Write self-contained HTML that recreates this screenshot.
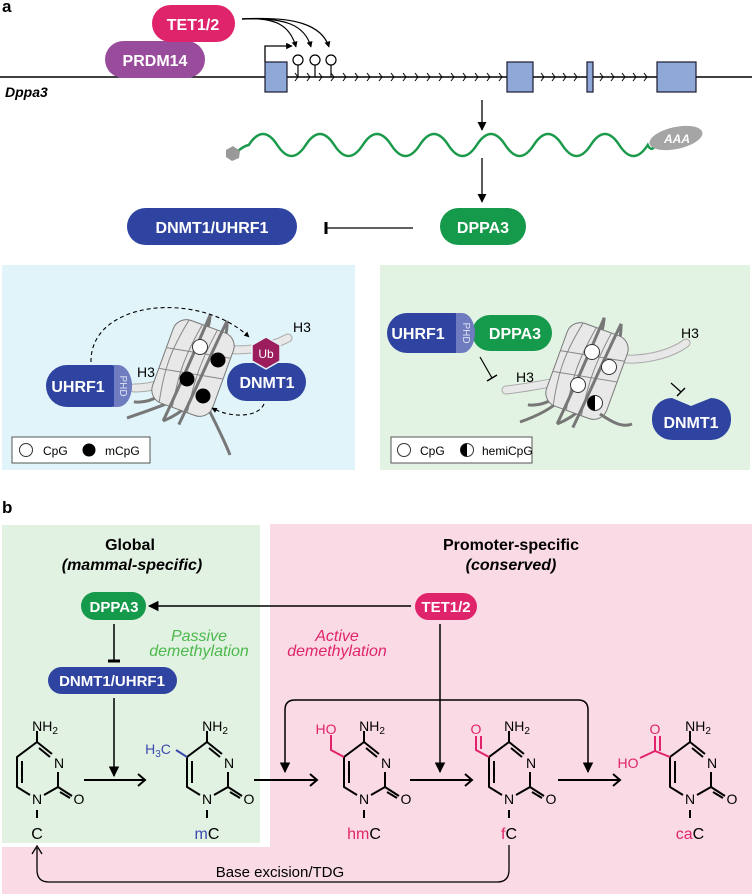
<!DOCTYPE html>
<html><head><meta charset="utf-8"><style>
html,body{margin:0;padding:0;background:#fff}
svg{display:block;font-family:"Liberation Sans",Arial,sans-serif}
</style></head><body>
<svg width="752" height="894" viewBox="0 0 752 894" xmlns="http://www.w3.org/2000/svg">
<defs>
<marker id="ah" viewBox="0 0 10 10" refX="9" refY="5" markerWidth="7" markerHeight="7" orient="auto-start-reverse"><path d="M0,0 L10,5 L0,10 z" fill="#000"/></marker>
<marker id="ahs" viewBox="0 0 10 10" refX="9" refY="5" markerWidth="5" markerHeight="5" orient="auto"><path d="M0,0 L10,5 L0,10 z" fill="#000"/></marker>
<g id="ring" stroke="#000" stroke-width="2" fill="none">
<path d="M0,742 L15,754"/><path d="M2,748 L13,757"/>
<path d="M21,772 L21,787"/>
<path d="M21,787 L7,795"/>
<path d="M-7,795 L-20,787 L-20,757 L0,742"/>
<path d="M-15,783 L-15,761"/>
<path d="M21,787 L35,796"/><path d="M23,792 L33,798"/>
<path d="M0,742 L0,731"/>
<path d="M0,810 L0,818"/>
</g>
<g id="ringtext" font-size="14" text-anchor="middle">
<text x="22" y="768">N</text><text x="0" y="804">N</text><text x="42" y="804">O</text>
</g>
<g id="nuc">
<path d="M-44,52 C-10,45 8,-20 -2,-56 M-10,60 C22,32 28,-22 16,-56" stroke="#777" stroke-width="3" fill="none"/>
<rect x="-32" y="-44" width="64" height="88" rx="14" fill="#e8e8e8" stroke="#777" stroke-width="1"/>
<path d="M-20,-44 C-27,-10 -27,10 -20,44 M-6,-44 C-12,-10 -12,10 -6,44 M10,-44 C5,-10 5,10 10,44 M-32,-10 L32,-22 M-32,12 L32,0" stroke="#888" fill="none" stroke-width="1"/>
<path d="M-2,-56 C-4,-20 -6,20 -10,60" stroke="#777" stroke-width="3" fill="none"/>
<path d="M16,-56 C12,-20 10,20 6,58" stroke="#777" stroke-width="3" fill="none"/>
</g>
</defs>

<!-- ===== Panel a ===== -->
<text x="2" y="12" font-size="17" font-weight="bold">a</text>
<line x1="0" y1="77" x2="752" y2="77" stroke="#000" stroke-width="1.5"/>
<text x="5" y="97" font-size="14" font-weight="bold" font-style="italic">Dppa3</text>
<rect x="105" y="41" width="100" height="37" rx="18.5" fill="#9a4c9c"/>
<text x="155" y="66" font-size="16" font-weight="bold" fill="#fff" text-anchor="middle">PRDM14</text>
<rect x="152" y="5" width="83" height="37" rx="18.5" fill="#e0246b"/>
<text x="193" y="30" font-size="16" font-weight="bold" fill="#fff" text-anchor="middle">TET1/2</text>
<path d="M265,62 L265,46 L292,46" stroke="#000" stroke-width="1.3" fill="none" marker-end="url(#ahs)"/>
<g fill="#8fa8d8" stroke="#1a1a2e" stroke-width="1.2">
<rect x="265" y="62" width="22" height="30"/><rect x="507" y="62" width="26" height="30"/>
<rect x="587" y="62" width="6" height="30"/><rect x="657" y="62" width="39" height="30"/>
</g>
<g stroke="#000" stroke-width="1" fill="none">
<path d="M295,73 l3,4 l-3,4 M307,73 l3,4 l-3,4 M319,73 l3,4 l-3,4 M331,73 l3,4 l-3,4 M343,73 l3,4 l-3,4 M355,73 l3,4 l-3,4 M367,73 l3,4 l-3,4 M379,73 l3,4 l-3,4 M391,73 l3,4 l-3,4 M403,73 l3,4 l-3,4 M415,73 l3,4 l-3,4 M427,73 l3,4 l-3,4 M439,73 l3,4 l-3,4 M451,73 l3,4 l-3,4 M463,73 l3,4 l-3,4 M475,73 l3,4 l-3,4 M487,73 l3,4 l-3,4 M499,73 l3,4 l-3,4"/>
<path d="M541,73 l3,4 l-3,4 M552,73 l3,4 l-3,4 M563,73 l3,4 l-3,4 M574,73 l3,4 l-3,4"/>
<path d="M600,73 l3,4 l-3,4 M611,73 l3,4 l-3,4 M622,73 l3,4 l-3,4 M633,73 l3,4 l-3,4 M644,73 l3,4 l-3,4"/>
</g>
<g stroke="#000" stroke-width="1.2" fill="#fff">
<line x1="298" y1="65" x2="298" y2="77"/><line x1="315" y1="65" x2="315" y2="77"/><line x1="331" y1="65" x2="331" y2="77"/>
<circle cx="298" cy="60" r="5"/><circle cx="315" cy="60" r="5"/><circle cx="331" cy="60" r="5"/>
</g>
<g stroke="#000" stroke-width="1.2" fill="none" marker-end="url(#ahs)">
<path d="M242,19 C275,17 290,25 296,47"/>
<path d="M242,19 C285,17 305,25 311,47"/>
<path d="M242,19 C295,16 322,25 329,47"/>
</g>
<line x1="482" y1="100" x2="482" y2="130" stroke="#000" stroke-width="1.3" marker-end="url(#ah)"/>
<line x1="482" y1="158" x2="482" y2="202" stroke="#000" stroke-width="1.3" marker-end="url(#ah)"/>
<path d="M236,153 Q243,146 248.75,145 q14.25,-22 28.5,0 t28.5,0 t28.5,0 t28.5,0 t28.5,0 t28.5,0 t28.5,0 t28.5,0 t28.5,0 t28.5,0 t28.5,0 t28.5,0 t28.5,0 t28.5,0 Q651,152 655,146" stroke="#1a9a4a" stroke-width="2.5" fill="none"/>
<polygon points="226,150 233,146 240,151 239,158 232,161 226,157" fill="#999"/>
<ellipse cx="676" cy="138" rx="27" ry="11" transform="rotate(-12 676 138)" fill="#a5a5a5"/>
<text x="677" y="143" font-size="12" font-weight="bold" font-style="italic" fill="#fff" text-anchor="middle">AAA</text>
<rect x="127" y="208" width="170" height="37" rx="18.5" fill="#2e44a0"/>
<text x="212" y="233" font-size="16" font-weight="bold" fill="#fff" text-anchor="middle">DNMT1/UHRF1</text>
<rect x="440" y="208" width="86" height="37" rx="18.5" fill="#15994a"/>
<text x="483" y="233" font-size="16" font-weight="bold" fill="#fff" text-anchor="middle">DPPA3</text>
<line x1="413" y1="228" x2="327" y2="228" stroke="#000" stroke-width="1.3"/>
<line x1="326" y1="222" x2="326" y2="234" stroke="#000" stroke-width="3"/>

<!-- left sub-panel -->
<rect x="2" y="265" width="353" height="205" fill="#e1f4f9"/>
<path d="M127,418 C150,410 165,405 175,400" stroke="#777" stroke-width="3" fill="none"/>
<path d="M134,388 C150,388 160,384 172,380" stroke="#aaa" stroke-width="9" fill="none" stroke-linecap="round"/>
<path d="M134,388 C150,388 160,384 172,380" stroke="#e8e8e8" stroke-width="7" fill="none" stroke-linecap="round"/>
<path d="M215,348 C240,352 265,350 288,338" stroke="#aaa" stroke-width="9" fill="none" stroke-linecap="round"/>
<path d="M215,348 C240,352 265,350 288,338" stroke="#e8e8e8" stroke-width="7" fill="none" stroke-linecap="round"/>
<g transform="translate(193,368) rotate(20)"><use href="#nuc"/></g>
<path d="M210,412 C218,428 225,442 230,455" stroke="#777" stroke-width="3" fill="none"/>
<text x="137" y="377" font-size="14">H3</text>
<text x="293" y="332" font-size="14">H3</text>
<circle cx="200" cy="347" r="7.5" fill="#fff" stroke="#333"/>
<circle cx="218" cy="360" r="7.5" fill="#000"/>
<circle cx="187" cy="379" r="7.5" fill="#000"/>
<circle cx="203" cy="396" r="7.5" fill="#000"/>
<rect x="46" y="365" width="86" height="42" rx="21" fill="#2e44a0"/>
<path d="M114,365 H118 A14,21 0 0 1 118,407 H114 Z" fill="#6f7dc0"/>
<text x="78" y="392" font-size="16" font-weight="bold" fill="#fff" text-anchor="middle">UHRF1</text>
<text transform="translate(120,386) rotate(90)" font-size="10" fill="#dfe3f5" text-anchor="middle">PHD</text>
<rect x="227" y="363" width="79" height="38" rx="19" fill="#2e44a0"/>
<text x="267" y="388" font-size="16" font-weight="bold" fill="#fff" text-anchor="middle">DNMT1</text>
<polygon points="266,337 280,345 280,361 266,369 252,361 252,345" fill="#9b1d5e" stroke="#e1f4f9" stroke-width="1.5"/>
<text x="266" y="358" font-size="12" fill="#fff" text-anchor="middle">Ub</text>
<path d="M91,362 C90,300 200,290 249,337" stroke="#000" stroke-width="1.1" stroke-dasharray="4,3" fill="none" marker-end="url(#ahs)"/>
<path d="M264,404 C258,418 230,418 212,408" stroke="#000" stroke-width="1.1" stroke-dasharray="4,3" fill="none" marker-end="url(#ahs)"/>
<rect x="12" y="437" width="138" height="26" fill="#fff" stroke="#555"/>
<circle cx="26" cy="450" r="6.5" fill="#fff" stroke="#333"/>
<text x="43" y="455" font-size="12">CpG</text>
<circle cx="89" cy="450" r="6.5" fill="#000"/>
<text x="105" y="455" font-size="12">mCpG</text>

<!-- right sub-panel -->
<rect x="380" y="265" width="370" height="205" fill="#e3f3e3"/>
<path d="M520,422 C540,415 552,408 560,400" stroke="#777" stroke-width="3" fill="none"/>
<path d="M506,390 C525,388 540,385 556,382" stroke="#aaa" stroke-width="9" fill="none" stroke-linecap="round"/>
<path d="M506,390 C525,388 540,385 556,382" stroke="#e8e8e8" stroke-width="7" fill="none" stroke-linecap="round"/>
<path d="M615,358 C640,362 670,355 686,343" stroke="#aaa" stroke-width="9" fill="none" stroke-linecap="round"/>
<path d="M615,358 C640,362 670,355 686,343" stroke="#e8e8e8" stroke-width="7" fill="none" stroke-linecap="round"/>
<g transform="translate(587,371) rotate(20)"><use href="#nuc"/></g>
<path d="M600,414 C612,422 622,428 632,424" stroke="#777" stroke-width="3" fill="none"/>
<text x="516" y="382" font-size="14">H3</text>
<text x="681" y="338" font-size="14">H3</text>
<circle cx="592" cy="352" r="7.5" fill="#fff" stroke="#333"/>
<circle cx="609" cy="367" r="7.5" fill="#fff" stroke="#333"/>
<circle cx="578" cy="385" r="7.5" fill="#fff" stroke="#333"/>
<circle cx="595" cy="403" r="7.5" fill="#fff" stroke="#333"/>
<path d="M595,395.5 A7.5,7.5 0 0 0 595,410.5 Z" fill="#000"/>
<rect x="472" y="315" width="80" height="36" rx="18" fill="#15994a"/>
<rect x="387" y="313" width="88" height="40" rx="20" fill="#2e44a0"/>
<path d="M456,313 H462 A13,20 0 0 1 462,353 H456 Z" fill="#6f7dc0"/>
<text x="418" y="339" font-size="16" font-weight="bold" fill="#fff" text-anchor="middle">UHRF1</text>
<text transform="translate(463,333) rotate(90)" font-size="10" fill="#dfe3f5" text-anchor="middle">PHD</text>
<text x="515" y="339" font-size="16" font-weight="bold" fill="#fff" text-anchor="middle">DPPA3</text>
<line x1="480" y1="357" x2="492" y2="378" stroke="#000" stroke-width="1.2"/>
<line x1="487" y1="381" x2="497" y2="375" stroke="#000" stroke-width="1.5"/>
<line x1="671" y1="383" x2="681" y2="392" stroke="#000" stroke-width="1.2"/>
<line x1="677" y1="396" x2="685" y2="388" stroke="#000" stroke-width="1.5"/>
<path d="M672,398 L691,406 L711,398 A20,20 0 0 1 731,418 L731,420 A20,20 0 0 1 711,440 L672,440 A20,20 0 0 1 652,420 L652,418 A20,20 0 0 1 672,398 Z" fill="#2e44a0"/>
<text x="691" y="428" font-size="16" font-weight="bold" fill="#fff" text-anchor="middle">DNMT1</text>
<rect x="391" y="437" width="141" height="26" fill="#fff" stroke="#555"/>
<circle cx="404" cy="450" r="6.5" fill="#fff" stroke="#333"/>
<text x="420" y="455" font-size="12">CpG</text>
<circle cx="467" cy="450" r="6.5" fill="#fff" stroke="#333"/>
<path d="M467,443.5 A6.5,6.5 0 0 0 467,456.5 Z" fill="#000"/>
<text x="482" y="455" font-size="12">hemiCpG</text>

<!-- ===== Panel b ===== -->
<text x="2" y="513" font-size="17" font-weight="bold">b</text>
<rect x="2" y="525" width="258" height="318" fill="#e2f2e2"/>
<path d="M270,524 H752 V894 H2 V847 H270 Z" fill="#fadbe5"/>
<text x="130" y="550" font-size="16" font-weight="bold" text-anchor="middle">Global</text>
<text x="132" y="570" font-size="16" font-weight="bold" font-style="italic" text-anchor="middle">(mammal-specific)</text>
<text x="511" y="550" font-size="16" font-weight="bold" text-anchor="middle">Promoter-specific</text>
<text x="511" y="570" font-size="16" font-weight="bold" font-style="italic" text-anchor="middle">(conserved)</text>
<rect x="81" y="592" width="65" height="28" rx="14" fill="#15994a"/>
<text x="114" y="612" font-size="15" font-weight="bold" fill="#fff" text-anchor="middle">DPPA3</text>
<rect x="415" y="593" width="62" height="27" rx="13.5" fill="#e0246b"/>
<text x="446" y="612" font-size="15" font-weight="bold" fill="#fff" text-anchor="middle">TET1/2</text>
<line x1="411" y1="606" x2="149" y2="606" stroke="#000" stroke-width="1.5" marker-end="url(#ah)"/>
<line x1="114" y1="624" x2="114" y2="661" stroke="#000" stroke-width="1.5"/>
<line x1="108" y1="661" x2="120" y2="661" stroke="#000" stroke-width="3"/>
<rect x="48" y="667" width="129" height="27" rx="13.5" fill="#2e44a0"/>
<text x="112" y="686" font-size="15" font-weight="bold" fill="#fff" text-anchor="middle">DNMT1/UHRF1</text>
<text x="199" y="641" font-size="16" font-style="italic" fill="#4cb84c" text-anchor="middle">Passive</text>
<text x="199" y="656" font-size="16" font-style="italic" fill="#4cb84c" text-anchor="middle">demethylation</text>
<text x="337" y="641" font-size="16" font-style="italic" fill="#e0246b" text-anchor="middle">Active</text>
<text x="337" y="656" font-size="16" font-style="italic" fill="#e0246b" text-anchor="middle">demethylation</text>
<line x1="114" y1="698" x2="114" y2="776" stroke="#000" stroke-width="1.5" marker-end="url(#ah)"/>
<line x1="440" y1="624" x2="440" y2="772" stroke="#000" stroke-width="1.5" marker-end="url(#ah)"/>
<path d="M285,772 V710 Q285,700 295,700 H578 Q588,700 588,710 V772" stroke="#000" stroke-width="1.5" fill="none" marker-start="url(#ah)" marker-end="url(#ah)"/>
<g stroke="#000" stroke-width="2" fill="none">
<path d="M84,780 H144 M138,774 L145,780 L138,786"/>
<path d="M254,780 H316 M310,774 L317,780 L310,786"/>
<path d="M410,780 H471 M465,774 L472,780 L465,786"/>
<path d="M558,780 H619 M613,774 L620,780 L613,786"/>
</g>
<use href="#ring" x="37"/><use href="#ringtext" x="37"/>
<use href="#ring" x="207"/><use href="#ringtext" x="207"/>
<use href="#ring" x="364"/><use href="#ringtext" x="364"/>
<use href="#ring" x="509"/><use href="#ringtext" x="509"/>
<use href="#ring" x="690"/><use href="#ringtext" x="690"/>
<g font-size="14" text-anchor="middle">
<text x="45" y="731">NH<tspan font-size="10" dy="3">2</tspan></text>
<text x="215" y="731">NH<tspan font-size="10" dy="3">2</tspan></text>
<text x="372" y="731">NH<tspan font-size="10" dy="3">2</tspan></text>
<text x="517" y="731">NH<tspan font-size="10" dy="3">2</tspan></text>
<text x="698" y="731">NH<tspan font-size="10" dy="3">2</tspan></text>
</g>
<g font-size="16" text-anchor="middle">
<text x="37" y="839">C</text>
<text x="207" y="839"><tspan fill="#3a4bb0">m</tspan>C</text>
<text x="364" y="839"><tspan fill="#e0246b">hm</tspan>C</text>
<text x="509" y="839"><tspan fill="#e0246b">f</tspan>C</text>
<text x="690" y="839"><tspan fill="#e0246b">ca</tspan>C</text>
</g>
<path d="M187,757 L176,750" stroke="#3a4bb0" stroke-width="2"/>
<text x="158" y="754" font-size="14" fill="#3a4bb0" text-anchor="middle">H<tspan font-size="10" dy="3">3</tspan><tspan dy="-3">C</tspan></text>
<path d="M344,757 L331,750 L331,735" stroke="#e0246b" stroke-width="2" fill="none"/>
<text x="326" y="734" font-size="14" fill="#e0246b" text-anchor="middle">HO</text>
<path d="M489,757 L476,750 L476,736 M481,749 L481,736" stroke="#e0246b" stroke-width="2" fill="none"/>
<text x="476" y="734" font-size="14" fill="#e0246b" text-anchor="middle">O</text>
<path d="M670,757 L655,751 L655,736 M660,751 L660,736 M655,751 L640,758" stroke="#e0246b" stroke-width="2" fill="none"/>
<text x="655" y="734" font-size="14" fill="#e0246b" text-anchor="middle">O</text>
<text x="628" y="768" font-size="14" fill="#e0246b" text-anchor="middle">HO</text>
<path d="M509,845 V870 Q509,882 497,882 H49 Q37,882 37,870 V848" stroke="#000" stroke-width="1.3" fill="none"/>
<path d="M32,854 L37,846 L42,854" stroke="#000" stroke-width="1.3" fill="none"/>
<text x="280" y="877" font-size="15" text-anchor="middle">Base excision/TDG</text>
</svg>
</body></html>
